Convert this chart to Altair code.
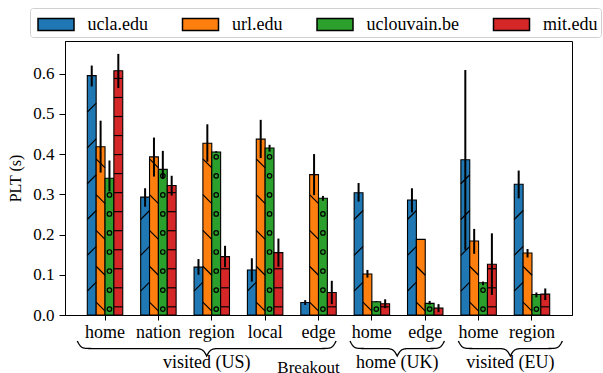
import numpy as np
import pandas as pd
import altair as alt

# ---------------- data ----------------
groups = ["visited (US)"] * 5 + ["home (UK)"] * 2 + ["visited (EU)"] * 2
cats = ["home", "nation", "region", "local", "edge", "home", "edge", "home", "region"]
series = ["ucla.edu", "url.edu", "uclouvain.be", "mit.edu"]
colors = ["#1f77b4", "#ff7f0e", "#2ca02c", "#d62728"]

ucla = [0.595, 0.293, 0.119, 0.112, 0.031, 0.304, 0.286, 0.386, 0.325]
ucla_lo = [0.568, 0.269, 0.100, 0.083, 0.025, 0.282, 0.255, 0.162, 0.290]
ucla_hi = [0.620, 0.315, 0.139, 0.141, 0.037, 0.328, 0.315, 0.609, 0.359]

url = [0.418, 0.393, 0.427, 0.437, 0.349, 0.102, 0.188, 0.184, 0.154]
url_lo = [0.354, 0.344, 0.381, 0.390, 0.298, 0.093, 0.188, 0.152, 0.143]
url_hi = [0.483, 0.441, 0.474, 0.485, 0.400, 0.112, 0.188, 0.214, 0.164]

uclouvain = [0.340, 0.362, 0.405, 0.415, 0.290, 0.033, 0.029, 0.080, 0.051]
uclouvain_lo = [0.307, 0.338, 0.403, 0.406, 0.284, 0.032, 0.026, 0.074, 0.044]
uclouvain_hi = [0.384, 0.408, 0.407, 0.423, 0.296, 0.034, 0.035, 0.083, 0.056]

mit = [0.607, 0.322, 0.145, 0.155, 0.056, 0.028, 0.017, 0.126, 0.052]
mit_lo = [0.564, 0.297, 0.119, 0.120, 0.027, 0.017, 0.007, 0.050, 0.037]
mit_hi = [0.649, 0.346, 0.172, 0.190, 0.085, 0.039, 0.027, 0.203, 0.066]

y_ticks = [0.0, 0.1, 0.2, 0.3, 0.4, 0.5, 0.6]

# brace annotation (group spans, in category-index units)
brace_groups = ["visited (US)", "home (UK)", "visited (EU)"]
brace_start = [-0.52, 4.59, 6.62]
brace_end = [4.33, 6.36, 8.57]

# ---------------- tables ----------------
keys = [f"{g}|{c}" for g, c in zip(groups, cats)]
vals = [ucla, url, uclouvain, mit]
los = [ucla_lo, url_lo, uclouvain_lo, mit_lo]
his = [ucla_hi, url_hi, uclouvain_hi, mit_hi]

rows = []
for s, v, lo, hi in zip(series, vals, los, his):
    for k, a, b, c in zip(keys, v, lo, hi):
        rows.append({"key": k, "series": s, "value": a, "lo": b, "hi": c})
df = pd.DataFrame(rows)

# hatch decoration derived from bar heights
hatch_spec = {  # series: (first level, spacing, margin)
    "ucla.edu": (0.0705, 0.089, 0.012),
    "url.edu": (0.021, 0.089, 0.012),
    "uclouvain.be": (0.0147, 0.0473, 0.007),
    "mit.edu": (0.0203, 0.0473, 0.003),
}
hrows = []
for _, r in df.iterrows():
    start, step, margin = hatch_spec[r["series"]]
    lvl = start
    while lvl + margin < r["value"]:
        if lvl - margin > 0:
            hrows.append({"key": r["key"], "series": r["series"], "level": lvl})
        lvl += step
hdf = pd.DataFrame(hrows)

brows = []
for g, x0, x1 in zip(brace_groups, brace_start, brace_end):
    n = max(60, int((x1 - x0) * 60))
    xs = np.linspace(x0, x1, n * 2 + 1)
    half = xs[: n + 1]
    beta = 27.0
    yh = 1 / (1 + np.exp(-beta * (half - half[0]))) + 1 / (1 + np.exp(-beta * (half - half[-1])))
    yy = np.concatenate([yh, yh[-2::-1]])
    top, tip = -0.0647, -0.102
    yv = top + (yy - 0.5) * (tip - top)
    for i, (xv, v) in enumerate(zip(xs, yv)):
        brows.append({"group": g, "i": i, "bx": xv, "by": v})
bdf = pd.DataFrame(brows)
ldf = pd.DataFrame({"group": brace_groups,
                    "mx": [(a + b) / 2 for a, b in zip(brace_start, brace_end)],
                    "ly": [-0.132] * 3})

# ---------------- encodings ----------------
FONT = "Liberation Serif, Times New Roman, DejaVu Serif, serif"
YDOM = [0, 0.681]

x_axis = alt.Axis(title="Breakout", labelExpr="split(datum.label, '|')[1]", labelAngle=0,
                  tickSize=5, labelPadding=3, titlePadding=18, titleX=243,
                  labelFontSize=18, titleFontSize=17)
y_axis = alt.Axis(title="PLT (s)", values=y_ticks, format=".1f", tickSize=6,
                  labelPadding=5, titlePadding=9, labelFontSize=17, titleFontSize=16)


def xenc():
    return alt.X("key:N", sort=keys, axis=x_axis,
                 scale=alt.Scale(type="band", domain=keys, paddingInner=0.336, paddingOuter=0.418))


def xoenc():
    return alt.XOffset("series:N", sort=series,
                       scale=alt.Scale(domain=series, paddingInner=0, paddingOuter=0))


def yenc(field):
    return alt.Y(f"{field}:Q", axis=y_axis, scale=alt.Scale(domain=YDOM, nice=False, zero=False))


bars = alt.Chart(df).mark_bar(stroke="black", strokeWidth=1.1, opacity=1).encode(
    x=xenc(), xOffset=xoenc(), y=yenc("value"),
    color=alt.Color("series:N", sort=series,
                    scale=alt.Scale(domain=series, range=colors),
                    legend=alt.Legend(
                        title=None, orient="none", legendX=-35, legendY=-33,
                        direction="horizontal",
                        symbolType="M-0.708,-0.5H2.292V0.5H-0.708Z", symbolSize=576,
                        symbolStrokeColor="black", symbolStrokeWidth=1.5, symbolOpacity=1,
                        labelFont=FONT, labelFontSize=18, labelColor="black",
                        labelOffset=28, columnPadding=29.5, padding=3.5,
                        strokeColor="#d0d0d0", fillColor="white", cornerRadius=3)),
)

errs = alt.Chart(df).mark_rule(color="black", strokeWidth=2).encode(
    x=xenc(), xOffset=xoenc(), y=yenc("lo"), y2="hi:Q")


def hatch(s, **mk):
    return alt.Chart(hdf).transform_filter(alt.datum.series == s).mark_point(
        filled=False, stroke="black", opacity=1, **mk).encode(
        x=xenc(), xOffset=xoenc(), y=yenc("level"))


h_ucla = hatch("ucla.edu", shape="M-1,1L1,-1", size=81, strokeWidth=1.2)
h_url = hatch("url.edu", shape="M-1,-1L1,1", size=81, strokeWidth=1.2)
h_ucl = hatch("uclouvain.be", shape="circle", size=20, strokeWidth=1.2)
h_mit = hatch("mit.edu", shape="M-1,0L1,0", size=72, strokeWidth=1.2)

main = alt.layer(bars, h_ucla, h_url, h_ucl, h_mit, errs)

bx_scale = alt.Scale(domain=[-0.75, 8.75], nice=False, zero=False)
by_scale = alt.Scale(domain=YDOM, nice=False, zero=False)

braces = alt.Chart(bdf).mark_line(color="black", strokeWidth=1.3, clip=False).encode(
    x=alt.X("bx:Q", scale=bx_scale, axis=None),
    y=alt.Y("by:Q", scale=by_scale, axis=None),
    detail="group:N", order="i:Q")

glabels = alt.Chart(ldf).mark_text(font=FONT, fontSize=18, color="black",
                                   baseline="alphabetic", clip=False).encode(
    x=alt.X("mx:Q", scale=bx_scale, axis=None),
    y=alt.Y("ly:Q", scale=by_scale, axis=None),
    text="group:N")

deco = alt.layer(braces, glabels)

chart = alt.layer(main, deco).resolve_scale(x="independent", y="independent").properties(
    width=507, height=274,
    autosize=alt.AutoSizeParams(type="none"),
    padding={"left": 65, "top": 41, "right": 31, "bottom": 58},
).configure(font=FONT).configure_view(stroke="black", strokeWidth=1).configure_axis(
    labelFont=FONT, titleFont=FONT,
    labelColor="black", titleColor="black", titleFontWeight="normal",
    tickColor="black", domainColor="black", grid=False,
).configure_text(font=FONT)

chart.save("out.html", embed_options={"renderer": "svg", "actions": False})
